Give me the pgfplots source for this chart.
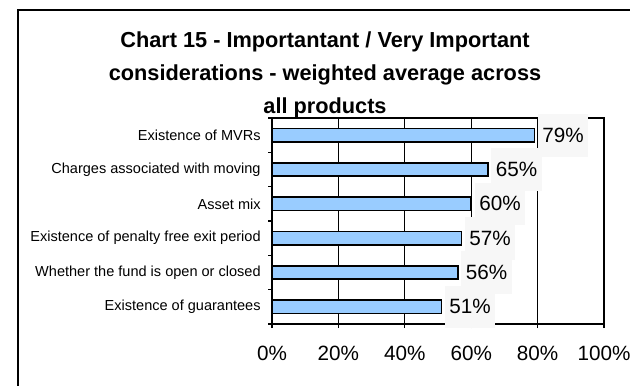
\documentclass[border=0pt]{standalone}
\usepackage{pgfplots}
\pgfplotsset{compat=1.18}
\usepackage{fontspec}
\setmainfont{Liberation Sans}
\definecolor{barblue}{RGB}{153,204,255}
\definecolor{lblgray}{RGB}{247,247,247}
\begin{document}
\begin{tikzpicture}[x=0.75pt,y=-0.75pt]
\path[use as bounding box] (0,0) rectangle (630,385);
\clip (0,0) rectangle (630,385);
\draw[line width=1.5pt] (18,10) rectangle (700,450);
\node[align=center, font=\bfseries\fontsize{16.3}{24.6}\selectfont] at (325,75) {Chart 15 - Importantant / Very Important\\considerations - weighted average across\\all products};
\coordinate (O) at (272,324);
\begin{axis}[at={(O)}, anchor=south west, scale only axis, width=249pt, height=154.5pt,
  xbar, bar width=10pt,
  xmin=0, xmax=100, ymin=-0.5, ymax=5.5,
  xtick={0,20,...,100}, xticklabels={0\%,20\%,40\%,60\%,80\%,100\%},
  ytick={-0.5,0.5,...,5.5}, yticklabels={},
  extra y ticks={0,1,2,3,4,5},
  extra y tick labels={Existence of guarantees,Whether the fund is open or closed,Existence of penalty free exit period,Asset mix,Charges associated with moving,Existence of MVRs},
  extra y tick style={tick style={draw=none}},
  tick pos=left, tick align=outside, major tick length=3pt,
  xmajorgrids, grid style={black, line width=0.9pt},
  axis line style={line width=1.2pt},
  every tick/.style={black, line width=0.9pt},
  x tick label style={font=\fontsize{15.5}{17}\selectfont, yshift=-10pt},
  y tick label style={font=\fontsize{10.9}{12}\selectfont, xshift=-2pt},
  /pgf/number format/assume math mode=true,
  point meta=x,
  nodes near coords={\pgfmathprintnumber[assume math mode=true]{\pgfplotspointmeta}\%},
  nodes near coords align=horizontal,
  every node near coord/.append style={font=\fontsize{15.5}{17}\selectfont, fill=lblgray, draw=none, text=black, inner xsep=3.5pt, minimum height=32pt, anchor=west, xshift=2pt},
]
\addplot[fill=barblue, draw=black, line width=1.1pt] coordinates {(51,0) (56,1) (57,2) (60,3) (65,4) (79,5)};
\end{axis}
\end{tikzpicture}
\end{document}
